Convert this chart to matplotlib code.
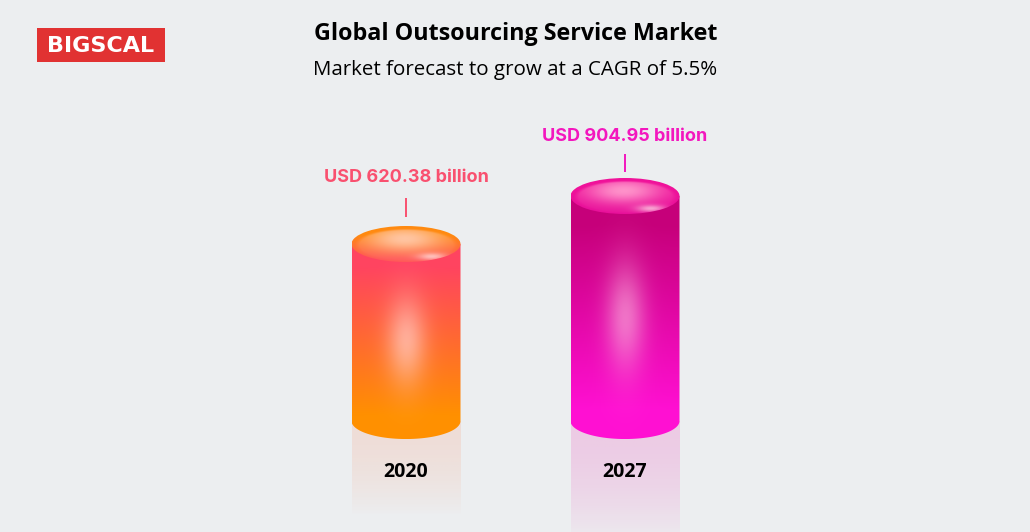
import numpy as np
import matplotlib
matplotlib.use('Agg')
import matplotlib.pyplot as plt
from matplotlib.patches import Ellipse, PathPatch, Rectangle
from matplotlib.path import Path
from matplotlib.colors import to_rgb

years = ['2020', '2027']
values = [620.38, 904.95]
value_labels = ['USD 620.38 billion', 'USD 904.95 billion']
label_colors = ['#F9506F', '#F317BE']
body_top = ['#FF4460', '#C6007A']
body_bottom = ['#FF9000', '#FF10D2']
cap_rim = ['#FF8A10', '#F0129A']
cap_centre = ['#FFC8A8', '#FF98CC']
cap_low = ['#FF5A58', '#E8109A']
glow_alpha = [0.55, 0.48]
mirror_color = ['#FF6A30', '#F010A8']
mirror_alpha = [0.13, 0.16]

BG = '#ECEEF0'
W, H = 1030, 532
PX_PER_VALUE = 0.1687     # the picture is not to scale from zero
PX_PER_CAT = 219
BASE = -429               # value at the cylinder foot
bar_w = 109 / PX_PER_CAT
ry = 18 / PX_PER_VALUE

# pixel offsets above the top of each cylinder
label_up = [66, 59]
tick_low = [27, 24]
tick_high = [46, 42]
mirror_len = [95, 125]

fig = plt.figure(figsize=(W / 100, H / 100), dpi=100, facecolor=BG)
ax = fig.add_axes([0, 0, 1, 1])
ax.set_xlim(-406 / PX_PER_CAT, (W - 406) / PX_PER_CAT)
ax.set_ylim(620.38 - (H - 244) / PX_PER_VALUE, 620.38 + 244 / PX_PER_VALUE)
ax.axis('off')


def body_path(x, top, rx):
    # sides plus round bottom, top edge is covered by the cap anyway
    t = np.linspace(np.pi, 2 * np.pi, 60)
    xs = np.r_[x - rx, x + rx * np.cos(t), x + rx, x - rx]
    ys = np.r_[top, BASE + ry * np.sin(t), top, top]
    return Path(np.c_[xs, ys])


def draw_cylinder(i, x, val):
    rx = bar_w / 2
    # body gradient with soft glow
    n = 300
    yy = np.linspace(0, 1, n)[:, None]
    xx = np.linspace(-1, 1, 200)[None, :]
    c0, c1 = np.array(to_rgb(body_top[i])), np.array(to_rgb(body_bottom[i]))
    s = np.clip((yy - 0.12) / 0.76, 0, 1)[..., None]
    img = c0 * (1 - s) + c1 * s
    glow = np.exp(-(xx / 0.36) ** 2 - ((yy - 0.5) / 0.22) ** 2)[..., None] * glow_alpha[i]
    img = img * (1 - glow) + np.array([1, 0.9, 0.92]) * glow
    y0, y1 = BASE - ry, val
    im = ax.imshow(img, extent=[x - rx, x + rx, y0, y1], origin='upper',
                   aspect='auto', interpolation='bilinear', zorder=3)
    patch = PathPatch(body_path(x, val, rx), transform=ax.transData, fc='none', ec='none')
    ax.add_patch(patch)
    im.set_clip_path(patch)

    # mirror under the foot
    length = BASE - mirror_len[i] / PX_PER_VALUE
    fade = mirror_alpha[i] * (1 - np.linspace(0, 1, 200) ** 2)[:, None]
    rgba = np.zeros((200, 1, 4))
    rgba[..., :3] = to_rgb(mirror_color[i])
    rgba[..., 3] = fade
    ax.imshow(rgba, extent=[x - rx, x + rx, length, BASE], origin='upper',
              aspect='auto', zorder=2)

    # top cap
    ny, nx = 120, 200
    v = np.linspace(1, -1, ny)[:, None]
    u = np.linspace(-1, 1, nx)[None, :]
    rim, centre, low = [np.array(to_rgb(c)) for c in (cap_rim[i], cap_centre[i], cap_low[i])]
    vert = np.clip((v + 0.8) / 1.3, 0, 1)[..., None]
    base = low * (1 - vert) + rim * vert
    lit = np.exp(-((u + 0.03) / 0.72) ** 2 - ((v - 0.3) / 0.72) ** 2)[..., None] * 0.95
    edge = np.clip((np.sqrt(u ** 2 + ((v + 0.06) / 0.96) ** 2) - 0.86) / 0.1, 0, 1)[..., None]
    lit = lit * (1 - edge)
    cap = base * (1 - lit) + centre * lit
    spot = np.exp(-((u - 0.47) / 0.26) ** 2 - ((v + 0.7) / 0.2) ** 2)[..., None] * 0.65
    cap = cap * (1 - spot) + np.array([1, 0.93, 0.93]) * spot
    im2 = ax.imshow(cap, extent=[x - rx, x + rx, val - ry, val + ry], origin='upper',
                    aspect='auto', interpolation='bilinear', zorder=4)
    ell = Ellipse((x, val), 2 * rx, 2 * ry, transform=ax.transData, fc='none', ec='none')
    ax.add_patch(ell)
    im2.set_clip_path(ell)

    # tick and label above
    ax.plot([x, x], [val + tick_low[i] / PX_PER_VALUE, val + tick_high[i] / PX_PER_VALUE],
            color=label_colors[i], lw=1.4, zorder=5, solid_capstyle='butt')
    ax.text(x, val + label_up[i] / PX_PER_VALUE, value_labels[i], color=label_colors[i], fontsize=13,
            fontweight='bold', family='Inter', ha='center', va='center', zorder=6)
    ax.text(x, BASE - 51 / PX_PER_VALUE, years[i], color='black', fontsize=14,
            fontweight='bold', family='Open Sans', ha='center', va='center', zorder=6)


for i, val in enumerate(values):
    draw_cylinder(i, i, val)

# header, placed in figure pixels
fig.text(515.5 / W, 1 - 34 / H, 'Global Outsourcing Service Market', fontsize=16.75,
         fontweight='bold', family='Open Sans', color='black', ha='center', va='center')
fig.text(515.5 / W, 1 - 70 / H, 'Market forecast to grow at a CAGR of 5.5%', fontsize=14.75,
         family='Open Sans', color='black', ha='center', va='center')

# logo
fig.patches.append(Rectangle((37 / W, 1 - 62 / H), 128 / W, 34 / H, transform=fig.transFigure,
                             fc='#E13232', ec='none'))
fig.text(101 / W, 1 - 45.5 / H, 'BIGSCAL', fontsize=16, family='DejaVu Sans', color='white',
         ha='center', va='center', fontweight='bold')

fig.savefig('out.png', dpi=100, facecolor=BG)
